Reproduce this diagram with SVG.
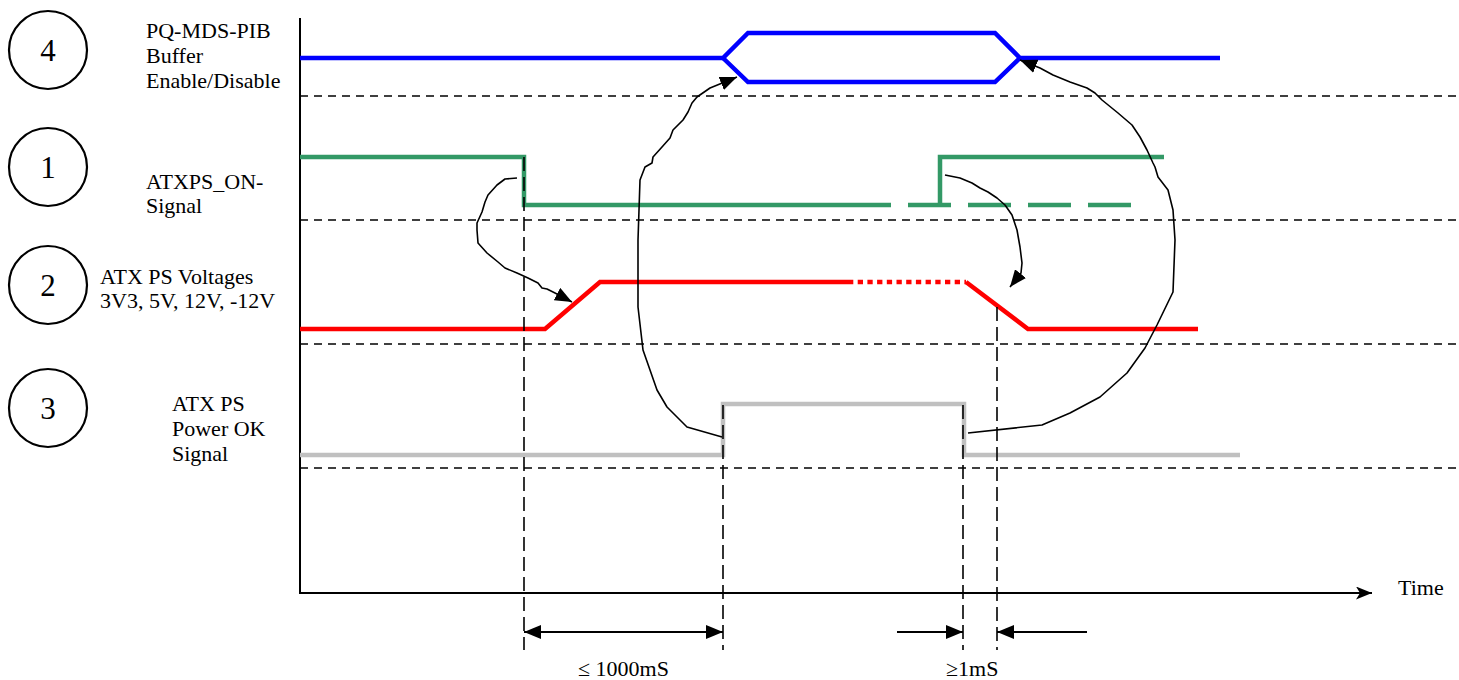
<svg xmlns="http://www.w3.org/2000/svg" width="1459" height="680" viewBox="0 0 1459 680">
<style>
text{font-family:"Liberation Serif","Times New Roman",serif;fill:#000}
.lbl{font-size:22px}
.num{font-size:31px}
.circ{fill:none;stroke:#000;stroke-width:2.2}
.sig{fill:none;stroke-width:4.5;stroke-linejoin:miter;stroke-linecap:butt}
.blue{stroke:#0000ff}
.green{stroke:#339966}
.red{stroke:#ff0000}
.gray{stroke:#c0c0c0}
.hd{stroke:#000;stroke-width:1.5;stroke-dasharray:8 6;fill:none}
.vd{stroke:#000;stroke-width:1.6;stroke-dasharray:14 6;fill:none}
.ax{stroke:#000;stroke-width:2;fill:none}
.cv{stroke:#000;stroke-width:1.6;fill:none;stroke-linejoin:round}
.dim{stroke:#000;stroke-width:1.8;fill:none}
</style>
<defs>
<marker id="ah" viewBox="0 0 17 14" refX="17" refY="7" markerWidth="17" markerHeight="14" markerUnits="userSpaceOnUse" orient="auto-start-reverse"><path d="M0,0 L17,7 L0,14 z" fill="#000"/></marker>
<marker id="tah" viewBox="0 0 16 13" refX="16" refY="6.5" markerWidth="16" markerHeight="13" markerUnits="userSpaceOnUse" orient="auto"><path d="M0,0 L16,6.5 L0,13 L4,6.5 z" fill="#000"/></marker>
</defs>
<rect width="1459" height="680" fill="#fff"/>

<g id="axes">
<line class="ax" x1="300" y1="18" x2="300" y2="593"/>
<line class="ax" x1="299" y1="593" x2="1372" y2="593" marker-end="url(#tah)"/>
<line class="hd" x1="300" y1="96" x2="1462" y2="96"/>
<line class="hd" x1="300" y1="220" x2="1462" y2="220"/>
<line class="hd" x1="300" y1="344" x2="1462" y2="344"/>
<line class="hd" x1="300" y1="468" x2="1462" y2="468"/>
<text class="lbl" x="1398" y="595">Time</text>
</g>

<g id="label-4">
<circle class="circ" cx="48" cy="50" r="39"/>
<text class="num" x="48" y="61" text-anchor="middle">4</text>
<text class="lbl" x="146" y="38">PQ-MDS-PIB</text>
<text class="lbl" x="146" y="63">Buffer</text>
<text class="lbl" x="146" y="88">Enable/Disable</text>
</g>
<g id="label-1">
<circle class="circ" cx="48" cy="167" r="39"/>
<text class="num" x="48" y="178" text-anchor="middle">1</text>
<text class="lbl" x="146" y="189">ATXPS_ON-</text>
<text class="lbl" x="146" y="213">Signal</text>
</g>
<g id="label-2">
<circle class="circ" cx="48" cy="285" r="39"/>
<text class="num" x="48" y="296" text-anchor="middle">2</text>
<text class="lbl" x="100" y="284">ATX PS Voltages</text>
<text class="lbl" x="100" y="308">3V3, 5V, 12V, -12V</text>
</g>
<g id="label-3">
<circle class="circ" cx="48" cy="408" r="39"/>
<text class="num" x="48" y="419" text-anchor="middle">3</text>
<text class="lbl" x="172" y="411">ATX PS</text>
<text class="lbl" x="172" y="436">Power OK</text>
<text class="lbl" x="172" y="461">Signal</text>
</g>

<g id="signal-4">
<polyline class="sig blue" points="300,58 723,58 748,33 995,33 1020,58 1220,58"/>
<polyline class="sig blue" points="723,58 748,82 995,82 1020,58"/>
</g>
<g id="signal-1">
<polyline class="sig green" points="300,157 524,157 524,205 848,205"/>
<line class="sig green" x1="848" y1="205" x2="1134" y2="205" stroke-dasharray="43 17"/>
<polyline class="sig green" points="940,205 940,157 1164,157"/>
</g>
<g id="signal-2">
<polyline class="sig red" points="300,329 545,329 600,282 848,282"/>
<line class="sig red" x1="848" y1="282" x2="966" y2="282" stroke-dasharray="5.3 4.4"/>
<polyline class="sig red" points="966,282 1028,329 1198,329"/>
</g>
<g id="signal-3">
<polyline class="sig gray" points="300,455 723,455 723,404 964,404 964,455 1240,455"/>
</g>

<g id="guides">
<line class="vd" x1="524" y1="157" x2="524" y2="650"/>
<line class="vd" x1="723" y1="405" x2="723" y2="650"/>
<line class="vd" x1="963" y1="405" x2="963" y2="650"/>
<line class="vd" x1="997" y1="307" x2="997" y2="650"/>
</g>

<g id="dimensions">
<line class="dim" x1="524" y1="632" x2="723" y2="632" marker-start="url(#ah)" marker-end="url(#ah)"/>
<line class="dim" x1="897" y1="632" x2="963" y2="632" marker-end="url(#ah)"/>
<line class="dim" x1="1087" y1="632" x2="997" y2="632" marker-end="url(#ah)"/>
<text class="lbl" x="578" y="676">≤ 1000mS</text>
<text class="lbl" x="946" y="676">≥1mS</text>
</g>

<g id="connectors">
<path class="cv" marker-end="url(#ah)" d="M517,178 L505,179 L497,185 L488,195 L485,202 L482,212 L477,223 L477,230 L478,243 L487,253 L498,262 L505,268 L517,273 L528,278 L538,283 L542,288 L547,289 L555,293 L572,302"/>
<path class="cv" marker-end="url(#ah)" d="M722,437 L687,427 L683,423 L667,407 L657,390 L650,370 L643,350 L638,307 L638,240 L640,180 L645,167 L652,163 L653,157 L662,147 L670,138 L673,130 L683,120 L688,112 L692,103 L697,97 L710,88 L737,77"/>
<path class="cv" marker-end="url(#ah)" d="M968,433 L1042,425 L1070,413 L1100,397 L1127,373 L1145,348 L1157,325 L1173,292 L1175,240 L1173,210 L1168,190 L1158,177 L1155,167 L1153,163 L1147,150 L1140,137 L1132,125 L1118,113 L1102,100 L1095,93 L1087,88 L1070,82 L1053,75 L1040,68 L1020,60"/>
<path class="cv" marker-end="url(#ah)" d="M945,175 L960,178 L972,183 L980,188 L988,192 L997,198 L1005,205 L1012,215 L1017,230 L1020,247 L1022,263 L1021,273 L1010,287"/>
</g>
</svg>
